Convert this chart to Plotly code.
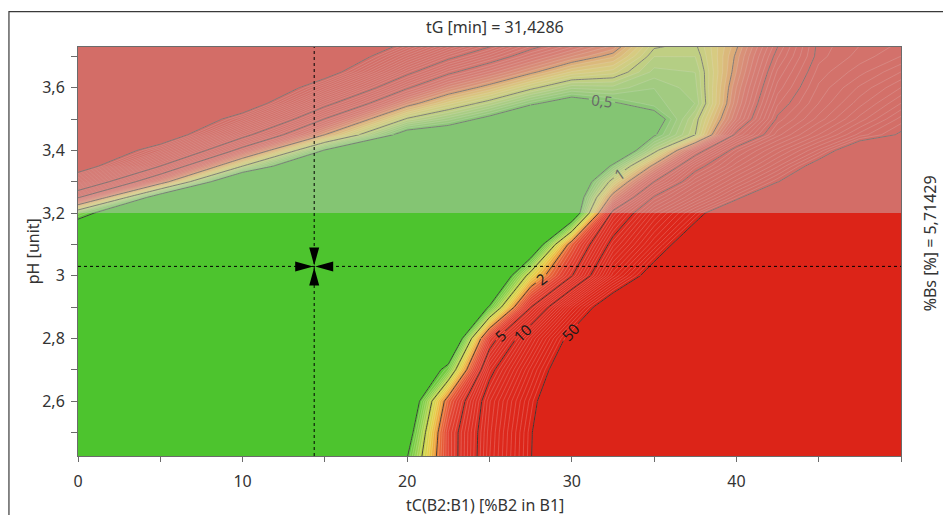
import numpy as np
import plotly.graph_objects as go

# ---------------- data ----------------
tc_values = [0, 5, 10, 15, 20, 22.5, 25, 27.5, 30, 32.5, 35, 37.5, 40, 42.5, 45, 47.5, 50]
ph_values = [2.4, 2.5, 2.6, 2.7, 2.8, 2.9, 3.0, 3.1, 3.2, 3.25, 3.3, 3.35, 3.4,
             3.45, 3.5, 3.55, 3.6, 3.65, 3.7, 3.75]
# log10 of the plotted response, one row per pH value, one column per tC value
log_response = [
    [-0.8, -0.8, -0.8, -0.8, -0.27, 0.55, 1.2, 1.69, 2.15, 2.2, 2.2, 2.2, 2.2, 2.2, 2.2, 2.2, 2.2],
    [-0.8, -0.8, -0.8, -0.8, -0.44, 0.55, 1.18, 1.68, 2.15, 2.2, 2.2, 2.2, 2.2, 2.2, 2.2, 2.2, 2.2],
    [-0.8, -0.8, -0.8, -0.8, -0.6, 0.4, 1.14, 1.62, 2.1, 2.2, 2.2, 2.2, 2.2, 2.2, 2.2, 2.2, 2.2],
    [-0.8, -0.8, -0.8, -0.8, -0.75, -0.2, 0.93, 1.47, 1.98, 2.2, 2.2, 2.2, 2.2, 2.2, 2.2, 2.2, 2.2],
    [-0.8, -0.8, -0.8, -0.8, -0.8, -0.75, 0.58, 1.23, 1.8, 2.2, 2.2, 2.2, 2.2, 2.2, 2.2, 2.2, 2.2],
    [-0.8, -0.8, -0.8, -0.8, -0.8, -0.8, -0.28, 0.69, 1.41, 1.96, 2.2, 2.2, 2.2, 2.2, 2.2, 2.2, 2.2],
    [-0.8, -0.8, -0.8, -0.8, -0.8, -0.8, -0.75, 0.09, 0.69, 1.38, 1.86, 2.2, 2.2, 2.2, 2.2, 2.2, 2.2],
    [-0.8, -0.8, -0.8, -0.8, -0.8, -0.8, -0.8, -0.6, 0.4, 1.08, 1.5, 1.96, 2.2, 2.2, 2.2, 2.2, 2.2],
    [-0.18, -0.8, -0.8, -0.8, -0.8, -0.8, -0.8, -0.8, -0.56, 0.76, 1.24, 1.59, 2.04, 2.2, 2.2, 2.2, 2.2],
    [0.72, -0.5, -0.8, -0.8, -0.8, -0.8, -0.8, -0.8, -0.58, 0.38, 1.02, 1.33, 1.64, 2.1, 2.2, 2.2, 2.2],
    [1.35, 0.42, -0.75, -0.8, -0.8, -0.8, -0.8, -0.8, -0.65, 0.07, 0.7, 1.14, 1.42, 1.69, 1.98, 2.2, 2.2],
    [1.93, 1.0, 0.0, -0.8, -0.8, -0.8, -0.8, -0.8, -0.8, -0.26, 0.35, 0.93, 1.23, 1.49, 1.8, 2.1, 2.2],
    [2.2, 1.5, 0.6, -0.32, -0.8, -0.8, -0.8, -0.8, -0.8, -0.61, -0.06, 0.59, 1.08, 1.32, 1.56, 1.9, 2.05],
    [2.2, 2.0, 1.09, 0.3, -0.42, -0.48, -0.66, -0.8, -0.8, -0.8, -0.32, 0.0, 0.74, 1.13, 1.35, 1.57, 1.72],
    [2.2, 2.2, 1.53, 0.69, -0.02, -0.18, -0.36, -0.57, -0.69, -0.8, -0.4, -0.04, 0.51, 1.02, 1.22, 1.42, 1.62],
    [2.2, 2.2, 1.96, 1.08, 0.37, 0.12, -0.06, -0.27, -0.41, -0.32, -0.22, -0.15, 0.44, 0.94, 1.15, 1.33, 1.5],
    [2.2, 2.2, 2.2, 1.47, 0.72, 0.43, 0.24, 0.03, -0.14, -0.12, -0.2, -0.12, 0.4, 0.87, 1.11, 1.26, 1.4],
    [2.2, 2.2, 2.2, 1.86, 1.06, 0.74, 0.53, 0.33, 0.14, 0.07, -0.12, -0.1, 0.35, 0.81, 1.07, 1.18, 1.3],
    [2.2, 2.2, 2.2, 2.1, 1.38, 1.06, 0.82, 0.59, 0.4, 0.26, -0.05, -0.05, 0.32, 0.74, 1.03, 1.12, 1.2],
    [2.2, 2.2, 2.2, 2.2, 1.7, 1.38, 1.12, 0.84, 0.65, 0.46, 0.05, 0.0, 0.27, 0.67, 1.02, 1.09, 1.15],
]
contour_levels = [0.5, 1, 2, 5, 10, 50]
# grid window (row range, column range, as indices) in which each level carries its label
label_windows = {
    0.5: ((13, 19), (7, 12)),
    1: ((8, 13), (7, 12)),
    2: ((4, 8), (0, 16)),
    5: ((2, 6), (0, 16)),
    10: ((2, 6), (0, 16)),
    50: ((2, 6), (0, 16)),
}

x_tickvals = [0, 10, 20, 30, 40]
x_minor = [5, 15, 25, 35, 45, 50]
y_tickvals = [2.6, 2.8, 3.0, 3.2, 3.4, 3.6]
y_ticktext = ["2,6", "2,8", "3", "3,2", "3,4", "3,6"]
y_minor = [2.5, 2.7, 2.9, 3.1, 3.3, 3.5, 3.7]
x_range = [0, 50]
y_range = [2.425, 3.73]

cursor_tc = 14.35
cursor_ph = 3.03
ph_limit = 3.2

title_text = "tG [min] = 31,4286"
side_text = "%Bs [%] = 5,71429"
x_title = "tC(B2:B1) [%B2 in B1]"
y_title = "pH [unit]"

# ---------------- figure ----------------
FONT = "Noto Sans"
X = np.array(tc_values)
Y = np.array(ph_values)
Z = np.array(log_response)
lo, hi = np.log10(contour_levels[0]), np.log10(contour_levels[-1])

colorscale = [
    [0.00, "rgb(77,196,46)"],
    [0.03, "rgb(112,202,66)"],
    [0.10, "rgb(155,210,78)"],
    [0.15, "rgb(196,214,74)"],
    [0.22, "rgb(232,205,72)"],
    [0.28, "rgb(238,160,56)"],
    [0.33, "rgb(232,104,56)"],
    [0.42, "rgb(226,64,48)"],
    [0.55, "rgb(222,48,36)"],
    [1.00, "rgb(220,36,24)"],
]

fig = go.Figure()
fig.add_trace(go.Contour(
    x=X, y=Y, z=Z, zmin=lo, zmax=hi, autocontour=False,
    contours=dict(start=lo, end=hi, size=(hi - lo) / 40, coloring="fill", showlines=True),
    line=dict(color="rgba(255,255,255,0.32)", width=0.6, smoothing=0),
    colorscale=colorscale, showscale=False, hoverinfo="skip",
))


def level_trace(lv, r0, r1, c0, c1, labelled):
    zz = Z[r0:r1 + 1, c0:c1 + 1] + (lv - np.log10(lv))
    return go.Contour(
        x=X[c0:c1 + 1], y=Y[r0:r1 + 1], z=zz, autocontour=False,
        contours=dict(start=lv, end=lv, size=1, coloring="none", showlabels=labelled,
                      labelfont=dict(family=FONT, size=15, color="#1a1a1a")),
        line=dict(color="rgba(45,45,45,0.85)", width=1, smoothing=0),
        showscale=False, hoverinfo="skip",
    )


nr, nc = Z.shape[0] - 1, Z.shape[1] - 1
for lv in contour_levels:
    (r0, r1), (c0, c1) = label_windows[lv]
    pieces = []
    if r0 > 0:
        pieces.append((0, r0, 0, nc, False))
    if r1 < nr:
        pieces.append((r1, nr, 0, nc, False))
    if c0 > 0:
        pieces.append((r0, r1, 0, c0, False))
    if c1 < nc:
        pieces.append((r0, r1, c1, nc, False))
    pieces.append((r0, r1, c0, c1, True))
    for p in pieces:
        fig.add_trace(level_trace(lv, *p))

shapes = [
    # faded region above the pH limit
    dict(type="rect", xref="x", yref="y", x0=x_range[0], x1=x_range[1], y0=ph_limit, y1=y_range[1],
         fillcolor="rgba(200,200,200,0.45)", line=dict(width=0), layer="above"),
    # crosshair
    dict(type="line", xref="x", yref="y", x0=cursor_tc, x1=cursor_tc, y0=y_range[0], y1=y_range[1],
         line=dict(color="black", width=1, dash="dot")),
    dict(type="line", xref="x", yref="y", x0=x_range[0], x1=x_range[1], y0=cursor_ph, y1=cursor_ph,
         line=dict(color="black", width=1, dash="dot")),
    dict(type="path", xref="x", yref="y", xsizemode="pixel", ysizemode="pixel",
         xanchor=cursor_tc, yanchor=cursor_ph,
         path="M -5,19 L 5,19 L 0,1 Z M -5,-19 L 5,-19 L 0,-1 Z "
              "M 19,-5 L 19,5 L 1,0 Z M -19,-5 L -19,5 L -1,0 Z",
         fillcolor="black", line=dict(width=0)),
    # outer window frame (top and left edges)
    dict(type="path", xref="paper", yref="paper",
         path="M -0.0839,-0.2 L -0.0839,1.0863 L 1.07,1.0863",
         line=dict(color="#3a3a3a", width=1.2)),
]

annotations = [
    dict(text=title_text, xref="paper", yref="paper", x=0.5065, y=1.049, showarrow=False,
         xanchor="center", yanchor="middle", font=dict(family=FONT, size=16, color="#333")),
    dict(text=x_title, xref="paper", yref="paper", x=0.495, y=-0.12, showarrow=False,
         xanchor="center", yanchor="middle", font=dict(family=FONT, size=16, color="#333")),
    dict(text=y_title, xref="paper", yref="paper", x=-0.055, y=0.5, showarrow=False, textangle=-90,
         xanchor="center", yanchor="middle", font=dict(family=FONT, size=16, color="#333")),
    dict(text=side_text, xref="paper", yref="paper", x=1.0353, y=0.52, showarrow=False, textangle=-90,
         xanchor="center", yanchor="middle", font=dict(family=FONT, size=16, color="#333")),
]

axis_common = dict(showgrid=False, zeroline=False, showline=True, mirror=True,
                   linecolor="#6b6b6b", linewidth=1, ticks="outside", tickcolor="#6b6b6b",
                   tickfont=dict(family=FONT, size=16, color="#333"))

fig.update_layout(
    width=943, height=515,
    margin=dict(l=78, r=42, t=47, b=59),
    paper_bgcolor="white", plot_bgcolor="white",
    separators=", ",
    showlegend=False,
    shapes=shapes,
    annotations=annotations,
    xaxis=dict(range=x_range, tickmode="array", tickvals=x_tickvals, ticklen=5,
               ticklabelstandoff=6,
               minor=dict(tickmode="array", tickvals=x_minor, ticklen=5, ticks="outside",
                          tickcolor="#6b6b6b"),
               **axis_common),
    yaxis=dict(range=y_range, tickmode="array", tickvals=y_tickvals, ticktext=y_ticktext, ticklen=6,
               ticklabelstandoff=3,
               minor=dict(tickmode="array", tickvals=y_minor, ticklen=6, ticks="outside",
                          tickcolor="#6b6b6b"),
               **axis_common),
)

fig.write_html("out.html", config={"displayModeBar": False, "staticPlot": True})
